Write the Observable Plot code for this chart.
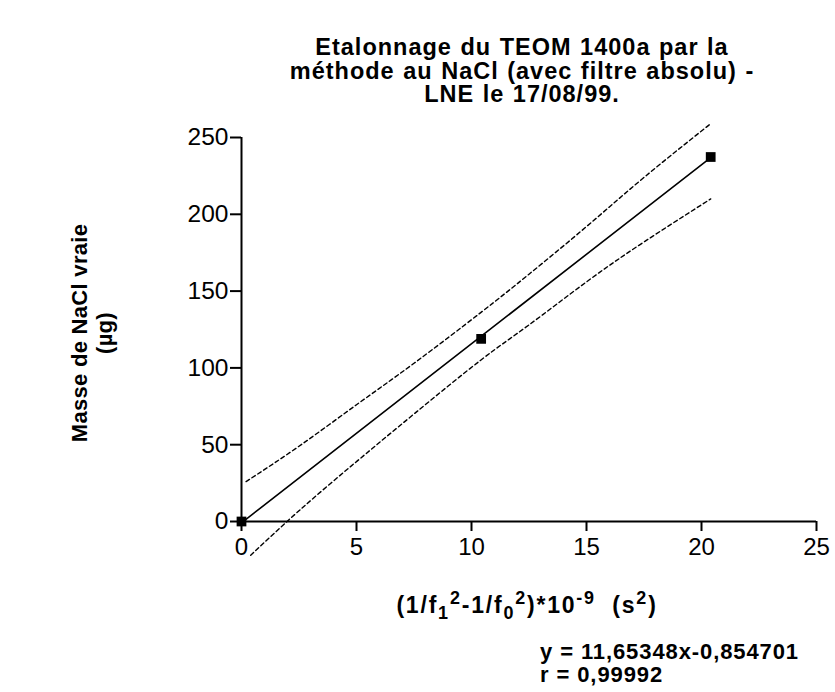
<!DOCTYPE html>
<html>
<head>
<meta charset="utf-8">
<script src="https://cdn.jsdelivr.net/npm/d3@7"></script>
<script src="https://cdn.jsdelivr.net/npm/@observablehq/plot@0.6"></script>
<style>
  body { margin: 0; background: #fff; font-family: "Liberation Sans", Arial, sans-serif; }
  #wrap { position: relative; width: 835px; height: 692px; }
  .t { position: absolute; font-weight: bold; color: #000; white-space: nowrap; }
  #title { left: 0; width: 1044px; top: 36px; text-align: center; font-size: 23.5px; line-height: 23.5px; letter-spacing: 1px; word-spacing: 1px; }
  #xlab { left: 0; width: 1054px; top: 592px; text-align: center; font-size: 23px; letter-spacing: 1.8px; }
  #ylab { left: 92px; top: 333px; transform: translate(-50%, -50%) rotate(-90deg); text-align: center; font-size: 22px; line-height: 25px; letter-spacing: 0.3px; }
  #eq { left: 540px; top: 640px; font-size: 22px; line-height: 23px; letter-spacing: 0.9px; }
  sub, sup { font-size: 78%; line-height: 0; }
</style>
</head>
<body>
<div id="wrap">
  <div class="t" id="title">Etalonnage du TEOM 1400a par la<br>méthode au NaCl (avec filtre absolu) -<br>LNE le 17/08/99.</div>
  <div class="t" id="ylab">Masse de NaCl vraie<br>(µg)</div>
  <div class="t" id="xlab">(1/f<sub>1</sub><sup>2</sup>-1/f<sub>0</sub><sup>2</sup>)*10<sup>-9</sup>&nbsp;&nbsp;(s<sup>2</sup>)</div>
  <div class="t" id="eq">y = 11,65348x-0,854701<br>r = 0,99992</div>
</div>
<script>
// Measured points
const ptX = [0, 10.42, 20.4];
const ptY = [0, 118.9, 237.3];
// Fitted line endpoints (y = 11,65348x-0,854701)
const fitX = [0, 20.4];
const fitY = [-0.85, 236.9];
// Confidence band (dashed)
const upX = [0.2, 2.5, 5, 7.5, 10.4, 12.5, 15, 17.5, 20.4];
const upY = [26, 49, 76, 103, 136, 161, 192, 224, 259];
const loX = [0.4, 2.5, 5, 7.5, 10.4, 12.5, 15, 17.5, 20.4];
const loY = [-22, 7, 39, 70, 105, 128, 156, 182, 210];
const xTicks = [0, 5, 10, 15, 20, 25];
const yTicks = [0, 50, 100, 150, 200, 250];

const pts = ptX.map((x, i) => ({x, y: ptY[i]}));
const fit = fitX.map((x, i) => ({x, y: fitY[i]}));
const up = upX.map((x, i) => ({x, y: upY[i]}));
const lo = loX.map((x, i) => ({x, y: loY[i]}));

const chart = Plot.plot({
  width: 835,
  height: 692,
  marginLeft: 241,
  marginRight: 19,
  marginTop: 137,
  marginBottom: 171,
  style: { fontFamily: "Liberation Sans, Arial, sans-serif", background: "white", overflow: "visible" },
  x: { domain: [0, 25] },
  y: { domain: [0, 250] },
  marks: [
    Plot.axisX({ ticks: xTicks, tickSize: 10, tickPadding: 6, fontSize: 24, label: null, tickFormat: d => String(d), strokeWidth: 2 }),
    Plot.axisY({ ticks: yTicks, tickSize: 11, tickPadding: 2, fontSize: 24.5, label: null, tickFormat: d => String(d), strokeWidth: 2 }),
    Plot.ruleY([0], { stroke: "#000", strokeWidth: 2 }),
    Plot.ruleX([0], { stroke: "#000", strokeWidth: 2 }),
    Plot.line(up, { x: "x", y: "y", stroke: "#000", strokeWidth: 1.4, strokeDasharray: "4,3", curve: "natural" }),
    Plot.line(lo, { x: "x", y: "y", stroke: "#000", strokeWidth: 1.4, strokeDasharray: "4,3", curve: "natural" }),
    Plot.line(fit, { x: "x", y: "y", stroke: "#000", strokeWidth: 1.6 }),
    Plot.dot(pts, { x: "x", y: "y", symbol: "square", r: 5.5, fill: "#000", stroke: "none" })
  ]
});
chart.style.position = "absolute";
chart.style.left = "0";
chart.style.top = "0";
document.getElementById("wrap").prepend(chart);
</script>
</body>
</html>
